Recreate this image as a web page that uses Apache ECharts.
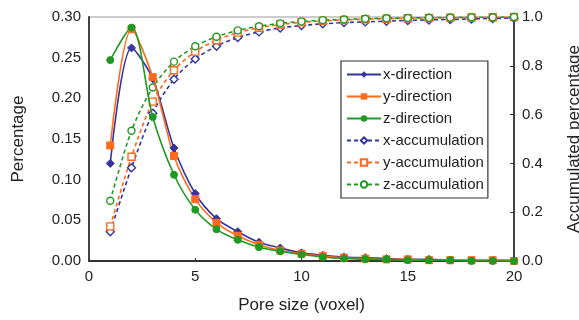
<!DOCTYPE html>
<html>
<head>
<meta charset="utf-8">
<script src="https://cdn.jsdelivr.net/npm/echarts@6/dist/echarts.min.js"></script>
<style>
  html, body { margin: 0; padding: 0; background: #fff; }
  #main { width: 579px; height: 320px; }
</style>
</head>
<body>
<div id="main"></div>
<script>
// pore size (voxel)
const poreSize = [1, 2, 3, 4, 5, 6, 7, 8, 9, 10, 11, 12, 13, 14, 15, 16, 17, 18, 19, 20];

// percentage per direction
const xDirection = [0.120, 0.262, 0.224, 0.139, 0.083, 0.052, 0.036, 0.023, 0.016, 0.010, 0.007, 0.005, 0.004, 0.003, 0.002, 0.002, 0.001, 0.001, 0.001, 0.001];
const yDirection = [0.142, 0.285, 0.226, 0.129, 0.076, 0.047, 0.031, 0.020, 0.013, 0.009, 0.006, 0.004, 0.003, 0.002, 0.002, 0.001, 0.001, 0.001, 0.001, 0.000];
const zDirection = [0.247, 0.287, 0.177, 0.106, 0.063, 0.039, 0.026, 0.017, 0.012, 0.008, 0.005, 0.003, 0.002, 0.002, 0.001, 0.001, 0.001, 0.000, 0.000, 0.000];

// accumulated percentage
const xAccum = [0.120, 0.382, 0.606, 0.745, 0.828, 0.880, 0.916, 0.939, 0.955, 0.965, 0.972, 0.977, 0.980, 0.983, 0.986, 0.988, 0.990, 0.992, 0.994, 0.995];
const yAccum = [0.142, 0.427, 0.653, 0.782, 0.858, 0.905, 0.936, 0.956, 0.969, 0.978, 0.984, 0.988, 0.991, 0.993, 0.995, 0.996, 0.997, 0.998, 0.999, 1.000];
const zAccum = [0.247, 0.534, 0.711, 0.817, 0.880, 0.919, 0.945, 0.962, 0.974, 0.982, 0.987, 0.990, 0.993, 0.995, 0.996, 0.997, 0.998, 0.999, 0.999, 1.000];

const BLUE = '#35349c';
const ORANGE = '#ff6a1a';
const GREEN = '#1e9a22';
const FONT = 'Liberation Sans';

function pairs(vals) {
  return poreSize.map((x, i) => [x, vals[i]]);
}

function directionSeries(name, vals, color, symbol, size) {
  return {
    name: name,
    type: 'line',
    yAxisIndex: 0,
    data: pairs(vals),
    smooth: 0.3,
    symbol: symbol,
    symbolSize: size,
    showSymbol: true,
    lineStyle: { color: color, width: 1.6 },
    itemStyle: { color: color, borderColor: color },
    z: 3
  };
}

function accumSeries(name, vals, color, symbol, size) {
  return {
    name: name,
    type: 'line',
    yAxisIndex: 1,
    data: pairs(vals),
    smooth: 0.3,
    symbol: symbol,
    symbolSize: size,
    showSymbol: true,
    lineStyle: { color: color, width: 1.6, type: [4, 3] },
    itemStyle: { color: '#fff', borderColor: color, borderWidth: 1.4 },
    z: 2
  };
}

let option = {
  animation: false,
  backgroundColor: '#fff',
  textStyle: { fontFamily: FONT },
  grid: {
    left: 89,
    right: 65,
    top: 17,
    bottom: 59,
    outerBoundsMode: 'none',
    containLabel: false,
    show: true,
    borderColor: '#999',
    borderWidth: 1
  },
  legend: {
    orient: 'vertical',
    left: 341,
    top: 61,
    padding: [6, 4, 6, 5],
    itemGap: 7,
    itemWidth: 34,
    itemHeight: 8,
    borderColor: '#333',
    borderWidth: 1.2,
    backgroundColor: '#fff',
    textStyle: { fontFamily: FONT, fontSize: 15, color: '#222', padding: [0, 0, 0, -3] }
  },
  xAxis: {
    type: 'value',
    min: 0,
    max: 20,
    interval: 5,
    name: 'Pore size (voxel)',
    nameLocation: 'middle',
    nameGap: 36,
    nameTextStyle: { fontFamily: FONT, fontSize: 17, color: '#222' },
    splitLine: { show: false },
    axisLine: { lineStyle: { color: '#333', width: 1.8 } },
    axisTick: { inside: true, length: 3, lineStyle: { color: '#333' } },
    axisLabel: { fontFamily: FONT, fontSize: 15, color: '#222', margin: 8 }
  },
  yAxis: [
    {
      type: 'value',
      min: 0,
      max: 0.3,
      interval: 0.05,
      name: 'Percentage',
      nameLocation: 'middle',
      nameGap: 62,
      nameTextStyle: { fontFamily: FONT, fontSize: 17, color: '#222' },
      splitLine: { show: false },
      axisLine: { show: true, lineStyle: { color: '#333', width: 1.8 } },
      axisTick: { show: false },
      axisLabel: {
        fontFamily: FONT, fontSize: 15, color: '#222', margin: 8,
        formatter: v => v.toFixed(2)
      }
    },
    {
      type: 'value',
      min: 0,
      max: 1,
      interval: 0.2,
      position: 'right',
      name: 'Accumulated percentage',
      nameLocation: 'middle',
      nameGap: 52,
      nameRotate: 90,
      nameTextStyle: { fontFamily: FONT, fontSize: 17, color: '#222' },
      splitLine: { show: false },
      axisLine: { show: true, lineStyle: { color: '#333', width: 1.8 } },
      axisTick: { show: true, inside: true, length: 4, lineStyle: { color: '#333' } },
      axisLabel: {
        fontFamily: FONT, fontSize: 15, color: '#222', margin: 8,
        formatter: v => v.toFixed(1)
      }
    }
  ],
  series: [
    directionSeries('x-direction', xDirection, BLUE, 'diamond', 8),
    directionSeries('y-direction', yDirection, ORANGE, 'rect', 7),
    directionSeries('z-direction', zDirection, GREEN, 'circle', 7),
    accumSeries('x-accumulation', xAccum, BLUE, 'diamond', 8),
    accumSeries('y-accumulation', yAccum, ORANGE, 'rect', 7),
    accumSeries('z-accumulation', zAccum, GREEN, 'circle', 7)
  ]
};

let myChart = echarts.init(document.getElementById('main'), null, { renderer: 'canvas' });
myChart.setOption(option);
</script>
</body>
</html>
